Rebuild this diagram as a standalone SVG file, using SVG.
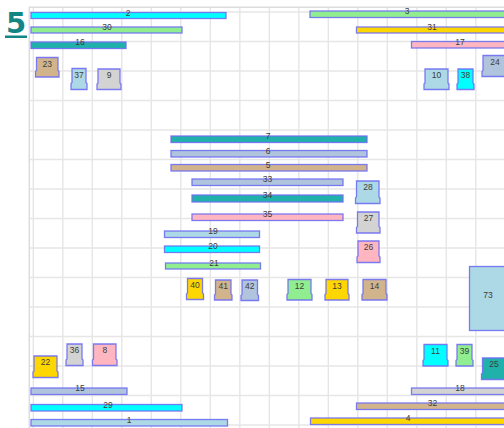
<svg xmlns="http://www.w3.org/2000/svg" width="504" height="428" viewBox="0 0 504 428">
<style>
.g line{stroke:#e6e6e6;stroke-width:1.4}
.frame{stroke:#dcdcdc;stroke-width:1.5}
.s{stroke:#6e6ef2;stroke-width:1.3;stroke-opacity:0.9}
.t{font-family:"Liberation Sans",Arial,sans-serif;font-size:8.5px;fill:#3c3c3c;text-anchor:middle}
.cyan{fill:#00ffff}.lgreen{fill:#90ee90}.sea{fill:#20b2aa}.gold{fill:#ffd700}.pink{fill:#ffb6c1}
.tan{fill:#d2b48c}.lblue{fill:#add8e6}.lgray{fill:#d3d3d3}.steel{fill:#b0c4de}
</style>
<rect width="504" height="428" fill="#ffffff"/>
<g class="g">
<line x1="33.3" y1="7" x2="33.3" y2="428"/><line x1="62.8" y1="7" x2="62.8" y2="428"/><line x1="92.3" y1="7" x2="92.3" y2="428"/><line x1="121.8" y1="7" x2="121.8" y2="428"/><line x1="151.3" y1="7" x2="151.3" y2="428"/><line x1="180.8" y1="7" x2="180.8" y2="428"/><line x1="210.3" y1="7" x2="210.3" y2="428"/><line x1="239.8" y1="7" x2="239.8" y2="428"/><line x1="269.3" y1="7" x2="269.3" y2="428"/><line x1="298.8" y1="7" x2="298.8" y2="428"/><line x1="328.3" y1="7" x2="328.3" y2="428"/><line x1="357.8" y1="7" x2="357.8" y2="428"/><line x1="387.3" y1="7" x2="387.3" y2="428"/><line x1="416.8" y1="7" x2="416.8" y2="428"/><line x1="446.3" y1="7" x2="446.3" y2="428"/><line x1="475.8" y1="7" x2="475.8" y2="428"/>
<line x1="29" y1="12" x2="504" y2="12"/><line x1="29" y1="41.5" x2="504" y2="41.5"/><line x1="29" y1="71" x2="504" y2="71"/><line x1="29" y1="100.5" x2="504" y2="100.5"/><line x1="29" y1="130" x2="504" y2="130"/><line x1="29" y1="159.5" x2="504" y2="159.5"/><line x1="29" y1="189" x2="504" y2="189"/><line x1="29" y1="218.5" x2="504" y2="218.5"/><line x1="29" y1="248" x2="504" y2="248"/><line x1="29" y1="277.5" x2="504" y2="277.5"/><line x1="29" y1="307" x2="504" y2="307"/><line x1="29" y1="336.5" x2="504" y2="336.5"/><line x1="29" y1="366" x2="504" y2="366"/><line x1="29" y1="395.5" x2="504" y2="395.5"/><line x1="29" y1="425" x2="504" y2="425"/>
</g>
<line class="frame" x1="29.3" y1="7" x2="29.3" y2="428"/>
<line class="frame" x1="29" y1="7.3" x2="504" y2="7.3"/>
<g id="title">
<text x="16" y="32.5" font-family="'DejaVu Sans',sans-serif" font-weight="bold" font-size="29" fill="#138585" text-anchor="middle">5</text>
<rect x="5" y="35.5" width="22" height="2.5" fill="#138585"/>
</g>
<!-- bars -->
<g id="n2"><rect class="s cyan" x="31" y="12.5" width="195" height="6"/><text class="t" x="128" y="15.5">2</text></g>
<g id="n30"><rect class="s lgreen" x="31" y="27" width="151" height="6"/><text class="t" x="107" y="30">30</text></g>
<g id="n16"><rect class="s sea" x="31" y="42" width="95" height="6.5"/><text class="t" x="80" y="45">16</text></g>
<g id="n3"><rect class="s lgreen" x="310" y="11" width="200" height="6.5"/><text class="t" x="407" y="14">3</text></g>
<g id="n31"><rect class="s gold" x="356.5" y="27" width="155" height="6"/><text class="t" x="432" y="30">31</text></g>
<g id="n17"><rect class="s pink" x="411.5" y="41.5" width="100" height="6.5"/><text class="t" x="460" y="44.5">17</text></g>
<g id="n7"><rect class="s sea" x="171" y="136" width="196" height="6.5"/><text class="t" x="268" y="139">7</text></g>
<g id="n6"><rect class="s steel" x="171" y="150.5" width="196" height="6.5"/><text class="t" x="268" y="153.5">6</text></g>
<g id="n5"><rect class="s tan" x="171" y="164.5" width="196" height="6.5"/><text class="t" x="268" y="167.5">5</text></g>
<g id="n33"><rect class="s steel" x="192" y="179" width="151" height="6.5"/><text class="t" x="267.5" y="182">33</text></g>
<g id="n34"><rect class="s sea" x="192" y="195" width="151" height="7"/><text class="t" x="267.5" y="198">34</text></g>
<g id="n35"><rect class="s pink" x="192" y="214" width="151" height="6.5"/><text class="t" x="267.5" y="217">35</text></g>
<g id="n19"><rect class="s lblue" x="164.5" y="231" width="95" height="6.5"/><text class="t" x="213" y="234">19</text></g>
<g id="n20"><rect class="s cyan" x="164.5" y="246" width="95" height="6.5"/><text class="t" x="213" y="249">20</text></g>
<g id="n21"><rect class="s lgreen" x="165.5" y="263" width="95" height="6"/><text class="t" x="214" y="266">21</text></g>
<g id="n15"><rect class="s steel" x="31" y="388" width="96" height="6.5"/><text class="t" x="80" y="391">15</text></g>
<g id="n29"><rect class="s cyan" x="31" y="404.5" width="151" height="6.5"/><text class="t" x="108" y="407.5">29</text></g>
<g id="n1"><rect class="s lblue" x="31" y="419.5" width="196.5" height="6.5"/><text class="t" x="129" y="422.5">1</text></g>
<g id="n18"><rect class="s lgray" x="411.5" y="388" width="100" height="6.5"/><text class="t" x="460" y="391">18</text></g>
<g id="n32"><rect class="s tan" x="356.5" y="403" width="155" height="6.5"/><text class="t" x="432.5" y="406">32</text></g>
<g id="n4"><rect class="s gold" x="310.5" y="418" width="200" height="6.5"/><text class="t" x="408" y="421">4</text></g>
<!-- nodes -->
<g id="n23"><path class="s tan" d="M36.5 57.5H58V70.5L59 71.5V77H35.5V71.5L36.5 70.5Z"/><text class="t" x="47.3" y="66.5">23</text></g>
<g id="n37"><path class="s lblue" d="M72 68.5H86V82.5L87 83.5V89.5H71V83.5L72 82.5Z"/><text class="t" x="79" y="77.5">37</text></g>
<g id="n9"><path class="s lgray" d="M98 69H120V83L121 84V89.5H97V84L98 83Z"/><text class="t" x="109" y="78">9</text></g>
<g id="n24"><path class="s steel" d="M483 55.5H506V70.5L507 71.5V76.5H482V71.5L483 70.5Z"/><text class="t" x="495" y="64.5">24</text></g>
<g id="n10"><path class="s lblue" d="M425 69H448V83L449 84V89.5H424V84L425 83Z"/><text class="t" x="436.5" y="78">10</text></g>
<g id="n38"><path class="s cyan" d="M458 69H473V83L474 84V89.5H457V84L458 83Z"/><text class="t" x="465.5" y="78">38</text></g>
<g id="n28"><path class="s lblue" d="M356.5 181H379V197L380 198V203.5H355.5V198L356.5 197Z"/><text class="t" x="368" y="190">28</text></g>
<g id="n27"><path class="s lgray" d="M357.5 212H379V226.5L380 227.5V233H356.5V227.5L357.5 226.5Z"/><text class="t" x="368.5" y="221">27</text></g>
<g id="n26"><path class="s pink" d="M358 241H379V256L380 257V262.5H357V257L358 256Z"/><text class="t" x="368.5" y="250">26</text></g>
<g id="n40"><path class="s gold" d="M187.5 278.5H202.5V293L203.5 294V299.5H186.5V294L187.5 293Z"/><text class="t" x="195" y="287.5">40</text></g>
<g id="n41"><path class="s tan" d="M215.5 280H231V294L232 295V300H214.5V295L215.5 294Z"/><text class="t" x="223.3" y="289">41</text></g>
<g id="n42"><path class="s steel" d="M242 280H257.5V294.5L258.5 295.5V300.5H241V295.5L242 294.5Z"/><text class="t" x="249.8" y="289">42</text></g>
<g id="n12"><path class="s lgreen" d="M288 279.5H311V293.5L312 294.5V300H287V294.5L288 293.5Z"/><text class="t" x="299.5" y="288.5">12</text></g>
<g id="n13"><path class="s gold" d="M326 279.5H348V293.5L349 294.5V300H325V294.5L326 293.5Z"/><text class="t" x="337" y="288.5">13</text></g>
<g id="n14"><path class="s tan" d="M363 279.5H386V293.5L387 294.5V300H362V294.5L363 293.5Z"/><text class="t" x="374.5" y="288.5">14</text></g>
<g id="n22"><path class="s gold" d="M34 356H57V371L58 372V377.5H33V372L34 371Z"/><text class="t" x="45.5" y="365">22</text></g>
<g id="n36"><path class="s lgray" d="M67 344H82V359L83 360V365.5H66V360L67 359Z"/><text class="t" x="74.5" y="353">36</text></g>
<g id="n8"><path class="s pink" d="M93.5 344H116V359L117 360V365.5H92.5V360L93.5 359Z"/><text class="t" x="104.8" y="353">8</text></g>
<g id="n11"><path class="s cyan" d="M424 344.5H447V359.5L448 360.5V366H423V360.5L424 359.5Z"/><text class="t" x="435.5" y="353.5">11</text></g>
<g id="n39"><path class="s lgreen" d="M457 344.5H472V359.5L473 360.5V366H456V360.5L457 359.5Z"/><text class="t" x="464.5" y="353.5">39</text></g>
<g id="n25"><path class="s sea" d="M482.5 358H506V373L507 374V379.5H481.5V374L482.5 373Z"/><text class="t" x="494" y="367">25</text></g>
<g id="n73"><rect class="s lblue" x="469.5" y="266.5" width="38" height="64"/><text class="t" x="488" y="298">73</text></g>
<g id="connectors"/>
</svg>
